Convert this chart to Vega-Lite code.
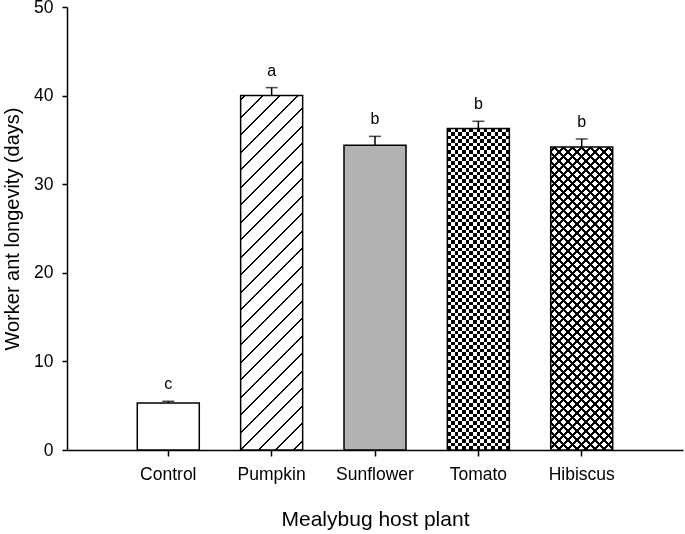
{
"$schema": "https://vega.github.io/schema/vega-lite/v6.json",
"width": 616, "height": 443,
"autosize": {"type": "none"},
"padding": {"left": 67, "top": 7, "right": 2, "bottom": 84},
"background": "white",
"config": {"view": {"stroke": null}, "font": "Liberation Sans",
 "axis": {"grid": false, "domainColor": "#000", "domainWidth": 1.5, "tickColor": "#000", "tickWidth": 1.5, "labelColor": "#000", "titleColor": "#000", "labelFont": "Liberation Sans", "titleFont": "Liberation Sans", "titleFontWeight": "normal"},
 "axisY": {"labelFontSize": 17.5, "titleFontSize": 20, "tickSize": 5, "labelPadding": 9, "titlePadding": 11},
 "axisX": {"labelFontSize": 17.5, "titleFontSize": 21, "tickSize": 6, "labelPadding": 9, "titlePadding": 26, "labelAngle": 0}
},
"data": {"values": [
 {"plant": "Control", "mean": 5.3, "upper": 5.5, "letter": "c"},
 {"plant": "Pumpkin", "mean": 40.0, "upper": 40.9, "letter": "a"},
 {"plant": "Sunflower", "mean": 34.4, "upper": 35.4, "letter": "b"},
 {"plant": "Tomato", "mean": 36.3, "upper": 37.1, "letter": "b"},
 {"plant": "Hibiscus", "mean": 34.2, "upper": 35.1, "letter": "b"}
]},
"encoding": {
 "x": {"field": "plant", "type": "nominal", "sort": ["Control", "Pumpkin", "Sunflower", "Tomato", "Hibiscus"], "scale": {"paddingInner": 0.4, "paddingOuter": 0.68}, "title": "Mealybug host plant"},
 "y": {"field": "mean", "type": "quantitative", "scale": {"domain": [0, 50]}, "axis": {"values": [0, 10, 20, 30, 40, 50]}, "title": "Worker ant longevity (days)"}
},
"layer": [
 {"transform": [{"filter": "datum.plant === 'Control'"}], "mark": {"type": "bar", "fill": "#fff"}},
 {"transform": [{"filter": "datum.plant === 'Sunflower'"}], "mark": {"type": "bar", "fill": "#b2b2b2"}},
 {"transform": [{"filter": "datum.plant === 'Pumpkin'"}], "mark": {"type": "bar", "fill": {"gradient": "linear", "x1": 0, "y1": 0, "x2": 0.19945, "y2": 1.14008, "stops": [
  {"offset": 0, "color": "#fff"},
  {"offset": 0.0079, "color": "#fff"}, {"offset": 0.0079, "color": "#000"}, {"offset": 0.0133, "color": "#000"}, {"offset": 0.0133, "color": "#fff"},
  {"offset": 0.0499, "color": "#fff"}, {"offset": 0.0499, "color": "#000"}, {"offset": 0.0553, "color": "#000"}, {"offset": 0.0553, "color": "#fff"},
  {"offset": 0.0919, "color": "#fff"}, {"offset": 0.0919, "color": "#000"}, {"offset": 0.0973, "color": "#000"}, {"offset": 0.0973, "color": "#fff"},
  {"offset": 0.1340, "color": "#fff"}, {"offset": 0.1340, "color": "#000"}, {"offset": 0.1394, "color": "#000"}, {"offset": 0.1394, "color": "#fff"},
  {"offset": 0.1760, "color": "#fff"}, {"offset": 0.1760, "color": "#000"}, {"offset": 0.1814, "color": "#000"}, {"offset": 0.1814, "color": "#fff"},
  {"offset": 0.2180, "color": "#fff"}, {"offset": 0.2180, "color": "#000"}, {"offset": 0.2234, "color": "#000"}, {"offset": 0.2234, "color": "#fff"},
  {"offset": 0.2600, "color": "#fff"}, {"offset": 0.2600, "color": "#000"}, {"offset": 0.2654, "color": "#000"}, {"offset": 0.2654, "color": "#fff"},
  {"offset": 0.3021, "color": "#fff"}, {"offset": 0.3021, "color": "#000"}, {"offset": 0.3075, "color": "#000"}, {"offset": 0.3075, "color": "#fff"},
  {"offset": 0.3441, "color": "#fff"}, {"offset": 0.3441, "color": "#000"}, {"offset": 0.3495, "color": "#000"}, {"offset": 0.3495, "color": "#fff"},
  {"offset": 0.3861, "color": "#fff"}, {"offset": 0.3861, "color": "#000"}, {"offset": 0.3915, "color": "#000"}, {"offset": 0.3915, "color": "#fff"},
  {"offset": 0.4281, "color": "#fff"}, {"offset": 0.4281, "color": "#000"}, {"offset": 0.4335, "color": "#000"}, {"offset": 0.4335, "color": "#fff"},
  {"offset": 0.4702, "color": "#fff"}, {"offset": 0.4702, "color": "#000"}, {"offset": 0.4756, "color": "#000"}, {"offset": 0.4756, "color": "#fff"},
  {"offset": 0.5122, "color": "#fff"}, {"offset": 0.5122, "color": "#000"}, {"offset": 0.5176, "color": "#000"}, {"offset": 0.5176, "color": "#fff"},
  {"offset": 0.5542, "color": "#fff"}, {"offset": 0.5542, "color": "#000"}, {"offset": 0.5596, "color": "#000"}, {"offset": 0.5596, "color": "#fff"},
  {"offset": 0.5962, "color": "#fff"}, {"offset": 0.5962, "color": "#000"}, {"offset": 0.6016, "color": "#000"}, {"offset": 0.6016, "color": "#fff"},
  {"offset": 0.6383, "color": "#fff"}, {"offset": 0.6383, "color": "#000"}, {"offset": 0.6437, "color": "#000"}, {"offset": 0.6437, "color": "#fff"},
  {"offset": 0.6803, "color": "#fff"}, {"offset": 0.6803, "color": "#000"}, {"offset": 0.6857, "color": "#000"}, {"offset": 0.6857, "color": "#fff"},
  {"offset": 0.7223, "color": "#fff"}, {"offset": 0.7223, "color": "#000"}, {"offset": 0.7277, "color": "#000"}, {"offset": 0.7277, "color": "#fff"},
  {"offset": 0.7643, "color": "#fff"}, {"offset": 0.7643, "color": "#000"}, {"offset": 0.7697, "color": "#000"}, {"offset": 0.7697, "color": "#fff"},
  {"offset": 0.8064, "color": "#fff"}, {"offset": 0.8064, "color": "#000"}, {"offset": 0.8118, "color": "#000"}, {"offset": 0.8118, "color": "#fff"},
  {"offset": 0.8484, "color": "#fff"}, {"offset": 0.8484, "color": "#000"}, {"offset": 0.8538, "color": "#000"}, {"offset": 0.8538, "color": "#fff"},
  {"offset": 0.8904, "color": "#fff"}, {"offset": 0.8904, "color": "#000"}, {"offset": 0.8958, "color": "#000"}, {"offset": 0.8958, "color": "#fff"},
  {"offset": 0.9324, "color": "#fff"}, {"offset": 0.9324, "color": "#000"}, {"offset": 0.9378, "color": "#000"}, {"offset": 0.9378, "color": "#fff"},
  {"offset": 0.9745, "color": "#fff"}, {"offset": 0.9745, "color": "#000"}, {"offset": 0.9799, "color": "#000"}, {"offset": 0.9799, "color": "#fff"},
  {"offset": 1, "color": "#fff"}
 ]}}},
 {"transform": [{"filter": "datum.plant === 'Tomato'"}], "mark": {"type": "bar", "fill": {"gradient": "linear", "x1": 0, "y1": 0, "x2": 0, "y2": 1, "stops": [
  {"offset": 0, "color": "#000"},
  {"offset": 0.0112, "color": "#000"}, {"offset": 0.0112, "color": "#fff"},
  {"offset": 0.0225, "color": "#fff"}, {"offset": 0.0225, "color": "#000"},
  {"offset": 0.0337, "color": "#000"}, {"offset": 0.0337, "color": "#fff"},
  {"offset": 0.0449, "color": "#fff"}, {"offset": 0.0449, "color": "#000"},
  {"offset": 0.0562, "color": "#000"}, {"offset": 0.0562, "color": "#fff"},
  {"offset": 0.0674, "color": "#fff"}, {"offset": 0.0674, "color": "#000"},
  {"offset": 0.0787, "color": "#000"}, {"offset": 0.0787, "color": "#fff"},
  {"offset": 0.0899, "color": "#fff"}, {"offset": 0.0899, "color": "#000"},
  {"offset": 0.1011, "color": "#000"}, {"offset": 0.1011, "color": "#fff"},
  {"offset": 0.1124, "color": "#fff"}, {"offset": 0.1124, "color": "#000"},
  {"offset": 0.1236, "color": "#000"}, {"offset": 0.1236, "color": "#fff"},
  {"offset": 0.1348, "color": "#fff"}, {"offset": 0.1348, "color": "#000"},
  {"offset": 0.1461, "color": "#000"}, {"offset": 0.1461, "color": "#fff"},
  {"offset": 0.1573, "color": "#fff"}, {"offset": 0.1573, "color": "#000"},
  {"offset": 0.1685, "color": "#000"}, {"offset": 0.1685, "color": "#fff"},
  {"offset": 0.1798, "color": "#fff"}, {"offset": 0.1798, "color": "#000"},
  {"offset": 0.1910, "color": "#000"}, {"offset": 0.1910, "color": "#fff"},
  {"offset": 0.2022, "color": "#fff"}, {"offset": 0.2022, "color": "#000"},
  {"offset": 0.2135, "color": "#000"}, {"offset": 0.2135, "color": "#fff"},
  {"offset": 0.2247, "color": "#fff"}, {"offset": 0.2247, "color": "#000"},
  {"offset": 0.2360, "color": "#000"}, {"offset": 0.2360, "color": "#fff"},
  {"offset": 0.2472, "color": "#fff"}, {"offset": 0.2472, "color": "#000"},
  {"offset": 0.2584, "color": "#000"}, {"offset": 0.2584, "color": "#fff"},
  {"offset": 0.2697, "color": "#fff"}, {"offset": 0.2697, "color": "#000"},
  {"offset": 0.2809, "color": "#000"}, {"offset": 0.2809, "color": "#fff"},
  {"offset": 0.2921, "color": "#fff"}, {"offset": 0.2921, "color": "#000"},
  {"offset": 0.3034, "color": "#000"}, {"offset": 0.3034, "color": "#fff"},
  {"offset": 0.3146, "color": "#fff"}, {"offset": 0.3146, "color": "#000"},
  {"offset": 0.3258, "color": "#000"}, {"offset": 0.3258, "color": "#fff"},
  {"offset": 0.3371, "color": "#fff"}, {"offset": 0.3371, "color": "#000"},
  {"offset": 0.3483, "color": "#000"}, {"offset": 0.3483, "color": "#fff"},
  {"offset": 0.3596, "color": "#fff"}, {"offset": 0.3596, "color": "#000"},
  {"offset": 0.3708, "color": "#000"}, {"offset": 0.3708, "color": "#fff"},
  {"offset": 0.3820, "color": "#fff"}, {"offset": 0.3820, "color": "#000"},
  {"offset": 0.3933, "color": "#000"}, {"offset": 0.3933, "color": "#fff"},
  {"offset": 0.4045, "color": "#fff"}, {"offset": 0.4045, "color": "#000"},
  {"offset": 0.4157, "color": "#000"}, {"offset": 0.4157, "color": "#fff"},
  {"offset": 0.4270, "color": "#fff"}, {"offset": 0.4270, "color": "#000"},
  {"offset": 0.4382, "color": "#000"}, {"offset": 0.4382, "color": "#fff"},
  {"offset": 0.4494, "color": "#fff"}, {"offset": 0.4494, "color": "#000"},
  {"offset": 0.4607, "color": "#000"}, {"offset": 0.4607, "color": "#fff"},
  {"offset": 0.4719, "color": "#fff"}, {"offset": 0.4719, "color": "#000"},
  {"offset": 0.4831, "color": "#000"}, {"offset": 0.4831, "color": "#fff"},
  {"offset": 0.4944, "color": "#fff"}, {"offset": 0.4944, "color": "#000"},
  {"offset": 0.5056, "color": "#000"}, {"offset": 0.5056, "color": "#fff"},
  {"offset": 0.5169, "color": "#fff"}, {"offset": 0.5169, "color": "#000"},
  {"offset": 0.5281, "color": "#000"}, {"offset": 0.5281, "color": "#fff"},
  {"offset": 0.5393, "color": "#fff"}, {"offset": 0.5393, "color": "#000"},
  {"offset": 0.5506, "color": "#000"}, {"offset": 0.5506, "color": "#fff"},
  {"offset": 0.5618, "color": "#fff"}, {"offset": 0.5618, "color": "#000"},
  {"offset": 0.5730, "color": "#000"}, {"offset": 0.5730, "color": "#fff"},
  {"offset": 0.5843, "color": "#fff"}, {"offset": 0.5843, "color": "#000"},
  {"offset": 0.5955, "color": "#000"}, {"offset": 0.5955, "color": "#fff"},
  {"offset": 0.6067, "color": "#fff"}, {"offset": 0.6067, "color": "#000"},
  {"offset": 0.6180, "color": "#000"}, {"offset": 0.6180, "color": "#fff"},
  {"offset": 0.6292, "color": "#fff"}, {"offset": 0.6292, "color": "#000"},
  {"offset": 0.6404, "color": "#000"}, {"offset": 0.6404, "color": "#fff"},
  {"offset": 0.6517, "color": "#fff"}, {"offset": 0.6517, "color": "#000"},
  {"offset": 0.6629, "color": "#000"}, {"offset": 0.6629, "color": "#fff"},
  {"offset": 0.6742, "color": "#fff"}, {"offset": 0.6742, "color": "#000"},
  {"offset": 0.6854, "color": "#000"}, {"offset": 0.6854, "color": "#fff"},
  {"offset": 0.6966, "color": "#fff"}, {"offset": 0.6966, "color": "#000"},
  {"offset": 0.7079, "color": "#000"}, {"offset": 0.7079, "color": "#fff"},
  {"offset": 0.7191, "color": "#fff"}, {"offset": 0.7191, "color": "#000"},
  {"offset": 0.7303, "color": "#000"}, {"offset": 0.7303, "color": "#fff"},
  {"offset": 0.7416, "color": "#fff"}, {"offset": 0.7416, "color": "#000"},
  {"offset": 0.7528, "color": "#000"}, {"offset": 0.7528, "color": "#fff"},
  {"offset": 0.7640, "color": "#fff"}, {"offset": 0.7640, "color": "#000"},
  {"offset": 0.7753, "color": "#000"}, {"offset": 0.7753, "color": "#fff"},
  {"offset": 0.7865, "color": "#fff"}, {"offset": 0.7865, "color": "#000"},
  {"offset": 0.7978, "color": "#000"}, {"offset": 0.7978, "color": "#fff"},
  {"offset": 0.8090, "color": "#fff"}, {"offset": 0.8090, "color": "#000"},
  {"offset": 0.8202, "color": "#000"}, {"offset": 0.8202, "color": "#fff"},
  {"offset": 0.8315, "color": "#fff"}, {"offset": 0.8315, "color": "#000"},
  {"offset": 0.8427, "color": "#000"}, {"offset": 0.8427, "color": "#fff"},
  {"offset": 0.8539, "color": "#fff"}, {"offset": 0.8539, "color": "#000"},
  {"offset": 0.8652, "color": "#000"}, {"offset": 0.8652, "color": "#fff"},
  {"offset": 0.8764, "color": "#fff"}, {"offset": 0.8764, "color": "#000"},
  {"offset": 0.8876, "color": "#000"}, {"offset": 0.8876, "color": "#fff"},
  {"offset": 0.8989, "color": "#fff"}, {"offset": 0.8989, "color": "#000"},
  {"offset": 0.9101, "color": "#000"}, {"offset": 0.9101, "color": "#fff"},
  {"offset": 0.9213, "color": "#fff"}, {"offset": 0.9213, "color": "#000"},
  {"offset": 0.9326, "color": "#000"}, {"offset": 0.9326, "color": "#fff"},
  {"offset": 0.9438, "color": "#fff"}, {"offset": 0.9438, "color": "#000"},
  {"offset": 0.9551, "color": "#000"}, {"offset": 0.9551, "color": "#fff"},
  {"offset": 0.9663, "color": "#fff"}, {"offset": 0.9663, "color": "#000"},
  {"offset": 0.9775, "color": "#000"}, {"offset": 0.9775, "color": "#fff"},
  {"offset": 0.9888, "color": "#fff"}, {"offset": 0.9888, "color": "#000"},
  {"offset": 1, "color": "#000"}
 ]}}},
 {"transform": [{"filter": "datum.plant === 'Tomato'"}], "mark": {"type": "bar", "blend": "difference", "fill": {"gradient": "linear", "x1": 0, "y1": 0, "x2": 1, "y2": 0, "stops": [
  {"offset": 0, "color": "rgba(255,255,255,0)"},
  {"offset": 0.0588, "color": "rgba(255,255,255,0)"}, {"offset": 0.0588, "color": "#fff"},
  {"offset": 0.1176, "color": "#fff"}, {"offset": 0.1176, "color": "rgba(255,255,255,0)"},
  {"offset": 0.1765, "color": "rgba(255,255,255,0)"}, {"offset": 0.1765, "color": "#fff"},
  {"offset": 0.2353, "color": "#fff"}, {"offset": 0.2353, "color": "rgba(255,255,255,0)"},
  {"offset": 0.2941, "color": "rgba(255,255,255,0)"}, {"offset": 0.2941, "color": "#fff"},
  {"offset": 0.3529, "color": "#fff"}, {"offset": 0.3529, "color": "rgba(255,255,255,0)"},
  {"offset": 0.4118, "color": "rgba(255,255,255,0)"}, {"offset": 0.4118, "color": "#fff"},
  {"offset": 0.4706, "color": "#fff"}, {"offset": 0.4706, "color": "rgba(255,255,255,0)"},
  {"offset": 0.5294, "color": "rgba(255,255,255,0)"}, {"offset": 0.5294, "color": "#fff"},
  {"offset": 0.5882, "color": "#fff"}, {"offset": 0.5882, "color": "rgba(255,255,255,0)"},
  {"offset": 0.6471, "color": "rgba(255,255,255,0)"}, {"offset": 0.6471, "color": "#fff"},
  {"offset": 0.7059, "color": "#fff"}, {"offset": 0.7059, "color": "rgba(255,255,255,0)"},
  {"offset": 0.7647, "color": "rgba(255,255,255,0)"}, {"offset": 0.7647, "color": "#fff"},
  {"offset": 0.8235, "color": "#fff"}, {"offset": 0.8235, "color": "rgba(255,255,255,0)"},
  {"offset": 0.8824, "color": "rgba(255,255,255,0)"}, {"offset": 0.8824, "color": "#fff"},
  {"offset": 0.9412, "color": "#fff"}, {"offset": 0.9412, "color": "rgba(255,255,255,0)"},
  {"offset": 1, "color": "rgba(255,255,255,0)"}
 ]}}},
 {"transform": [{"filter": "datum.plant === 'Hibiscus'"}], "mark": {"type": "bar", "fill": {"gradient": "linear", "x1": 0, "y1": 0, "x2": 0.23658, "y2": 1.15623, "stops": [
  {"offset": 0, "color": "#fff"},
  {"offset": 0.0082, "color": "#fff"}, {"offset": 0.0082, "color": "#000"}, {"offset": 0.0158, "color": "#000"}, {"offset": 0.0158, "color": "#fff"},
  {"offset": 0.0329, "color": "#fff"}, {"offset": 0.0329, "color": "#000"}, {"offset": 0.0405, "color": "#000"}, {"offset": 0.0405, "color": "#fff"},
  {"offset": 0.0575, "color": "#fff"}, {"offset": 0.0575, "color": "#000"}, {"offset": 0.0651, "color": "#000"}, {"offset": 0.0651, "color": "#fff"},
  {"offset": 0.0822, "color": "#fff"}, {"offset": 0.0822, "color": "#000"}, {"offset": 0.0898, "color": "#000"}, {"offset": 0.0898, "color": "#fff"},
  {"offset": 0.1068, "color": "#fff"}, {"offset": 0.1068, "color": "#000"}, {"offset": 0.1144, "color": "#000"}, {"offset": 0.1144, "color": "#fff"},
  {"offset": 0.1315, "color": "#fff"}, {"offset": 0.1315, "color": "#000"}, {"offset": 0.1391, "color": "#000"}, {"offset": 0.1391, "color": "#fff"},
  {"offset": 0.1561, "color": "#fff"}, {"offset": 0.1561, "color": "#000"}, {"offset": 0.1637, "color": "#000"}, {"offset": 0.1637, "color": "#fff"},
  {"offset": 0.1808, "color": "#fff"}, {"offset": 0.1808, "color": "#000"}, {"offset": 0.1884, "color": "#000"}, {"offset": 0.1884, "color": "#fff"},
  {"offset": 0.2055, "color": "#fff"}, {"offset": 0.2055, "color": "#000"}, {"offset": 0.2131, "color": "#000"}, {"offset": 0.2131, "color": "#fff"},
  {"offset": 0.2301, "color": "#fff"}, {"offset": 0.2301, "color": "#000"}, {"offset": 0.2377, "color": "#000"}, {"offset": 0.2377, "color": "#fff"},
  {"offset": 0.2548, "color": "#fff"}, {"offset": 0.2548, "color": "#000"}, {"offset": 0.2624, "color": "#000"}, {"offset": 0.2624, "color": "#fff"},
  {"offset": 0.2794, "color": "#fff"}, {"offset": 0.2794, "color": "#000"}, {"offset": 0.2870, "color": "#000"}, {"offset": 0.2870, "color": "#fff"},
  {"offset": 0.3041, "color": "#fff"}, {"offset": 0.3041, "color": "#000"}, {"offset": 0.3117, "color": "#000"}, {"offset": 0.3117, "color": "#fff"},
  {"offset": 0.3287, "color": "#fff"}, {"offset": 0.3287, "color": "#000"}, {"offset": 0.3363, "color": "#000"}, {"offset": 0.3363, "color": "#fff"},
  {"offset": 0.3534, "color": "#fff"}, {"offset": 0.3534, "color": "#000"}, {"offset": 0.3610, "color": "#000"}, {"offset": 0.3610, "color": "#fff"},
  {"offset": 0.3781, "color": "#fff"}, {"offset": 0.3781, "color": "#000"}, {"offset": 0.3857, "color": "#000"}, {"offset": 0.3857, "color": "#fff"},
  {"offset": 0.4027, "color": "#fff"}, {"offset": 0.4027, "color": "#000"}, {"offset": 0.4103, "color": "#000"}, {"offset": 0.4103, "color": "#fff"},
  {"offset": 0.4274, "color": "#fff"}, {"offset": 0.4274, "color": "#000"}, {"offset": 0.4350, "color": "#000"}, {"offset": 0.4350, "color": "#fff"},
  {"offset": 0.4520, "color": "#fff"}, {"offset": 0.4520, "color": "#000"}, {"offset": 0.4596, "color": "#000"}, {"offset": 0.4596, "color": "#fff"},
  {"offset": 0.4767, "color": "#fff"}, {"offset": 0.4767, "color": "#000"}, {"offset": 0.4843, "color": "#000"}, {"offset": 0.4843, "color": "#fff"},
  {"offset": 0.5013, "color": "#fff"}, {"offset": 0.5013, "color": "#000"}, {"offset": 0.5089, "color": "#000"}, {"offset": 0.5089, "color": "#fff"},
  {"offset": 0.5260, "color": "#fff"}, {"offset": 0.5260, "color": "#000"}, {"offset": 0.5336, "color": "#000"}, {"offset": 0.5336, "color": "#fff"},
  {"offset": 0.5507, "color": "#fff"}, {"offset": 0.5507, "color": "#000"}, {"offset": 0.5583, "color": "#000"}, {"offset": 0.5583, "color": "#fff"},
  {"offset": 0.5753, "color": "#fff"}, {"offset": 0.5753, "color": "#000"}, {"offset": 0.5829, "color": "#000"}, {"offset": 0.5829, "color": "#fff"},
  {"offset": 0.6000, "color": "#fff"}, {"offset": 0.6000, "color": "#000"}, {"offset": 0.6076, "color": "#000"}, {"offset": 0.6076, "color": "#fff"},
  {"offset": 0.6246, "color": "#fff"}, {"offset": 0.6246, "color": "#000"}, {"offset": 0.6322, "color": "#000"}, {"offset": 0.6322, "color": "#fff"},
  {"offset": 0.6493, "color": "#fff"}, {"offset": 0.6493, "color": "#000"}, {"offset": 0.6569, "color": "#000"}, {"offset": 0.6569, "color": "#fff"},
  {"offset": 0.6739, "color": "#fff"}, {"offset": 0.6739, "color": "#000"}, {"offset": 0.6815, "color": "#000"}, {"offset": 0.6815, "color": "#fff"},
  {"offset": 0.6986, "color": "#fff"}, {"offset": 0.6986, "color": "#000"}, {"offset": 0.7062, "color": "#000"}, {"offset": 0.7062, "color": "#fff"},
  {"offset": 0.7233, "color": "#fff"}, {"offset": 0.7233, "color": "#000"}, {"offset": 0.7309, "color": "#000"}, {"offset": 0.7309, "color": "#fff"},
  {"offset": 0.7479, "color": "#fff"}, {"offset": 0.7479, "color": "#000"}, {"offset": 0.7555, "color": "#000"}, {"offset": 0.7555, "color": "#fff"},
  {"offset": 0.7726, "color": "#fff"}, {"offset": 0.7726, "color": "#000"}, {"offset": 0.7802, "color": "#000"}, {"offset": 0.7802, "color": "#fff"},
  {"offset": 0.7972, "color": "#fff"}, {"offset": 0.7972, "color": "#000"}, {"offset": 0.8048, "color": "#000"}, {"offset": 0.8048, "color": "#fff"},
  {"offset": 0.8219, "color": "#fff"}, {"offset": 0.8219, "color": "#000"}, {"offset": 0.8295, "color": "#000"}, {"offset": 0.8295, "color": "#fff"},
  {"offset": 0.8465, "color": "#fff"}, {"offset": 0.8465, "color": "#000"}, {"offset": 0.8541, "color": "#000"}, {"offset": 0.8541, "color": "#fff"},
  {"offset": 0.8712, "color": "#fff"}, {"offset": 0.8712, "color": "#000"}, {"offset": 0.8788, "color": "#000"}, {"offset": 0.8788, "color": "#fff"},
  {"offset": 0.8959, "color": "#fff"}, {"offset": 0.8959, "color": "#000"}, {"offset": 0.9035, "color": "#000"}, {"offset": 0.9035, "color": "#fff"},
  {"offset": 0.9205, "color": "#fff"}, {"offset": 0.9205, "color": "#000"}, {"offset": 0.9281, "color": "#000"}, {"offset": 0.9281, "color": "#fff"},
  {"offset": 0.9452, "color": "#fff"}, {"offset": 0.9452, "color": "#000"}, {"offset": 0.9528, "color": "#000"}, {"offset": 0.9528, "color": "#fff"},
  {"offset": 0.9698, "color": "#fff"}, {"offset": 0.9698, "color": "#000"}, {"offset": 0.9774, "color": "#000"}, {"offset": 0.9774, "color": "#fff"},
  {"offset": 1, "color": "#fff"}
 ]}}},
 {"transform": [{"filter": "datum.plant === 'Hibiscus'"}], "mark": {"type": "bar", "fill": {"gradient": "linear", "x1": 1, "y1": 0, "x2": 0.76342, "y2": 1.15623, "stops": [
  {"offset": 0, "color": "rgba(0,0,0,0)"},
  {"offset": 0.0082, "color": "rgba(0,0,0,0)"}, {"offset": 0.0082, "color": "#000"}, {"offset": 0.0158, "color": "#000"}, {"offset": 0.0158, "color": "rgba(0,0,0,0)"},
  {"offset": 0.0329, "color": "rgba(0,0,0,0)"}, {"offset": 0.0329, "color": "#000"}, {"offset": 0.0405, "color": "#000"}, {"offset": 0.0405, "color": "rgba(0,0,0,0)"},
  {"offset": 0.0575, "color": "rgba(0,0,0,0)"}, {"offset": 0.0575, "color": "#000"}, {"offset": 0.0651, "color": "#000"}, {"offset": 0.0651, "color": "rgba(0,0,0,0)"},
  {"offset": 0.0822, "color": "rgba(0,0,0,0)"}, {"offset": 0.0822, "color": "#000"}, {"offset": 0.0898, "color": "#000"}, {"offset": 0.0898, "color": "rgba(0,0,0,0)"},
  {"offset": 0.1068, "color": "rgba(0,0,0,0)"}, {"offset": 0.1068, "color": "#000"}, {"offset": 0.1144, "color": "#000"}, {"offset": 0.1144, "color": "rgba(0,0,0,0)"},
  {"offset": 0.1315, "color": "rgba(0,0,0,0)"}, {"offset": 0.1315, "color": "#000"}, {"offset": 0.1391, "color": "#000"}, {"offset": 0.1391, "color": "rgba(0,0,0,0)"},
  {"offset": 0.1561, "color": "rgba(0,0,0,0)"}, {"offset": 0.1561, "color": "#000"}, {"offset": 0.1637, "color": "#000"}, {"offset": 0.1637, "color": "rgba(0,0,0,0)"},
  {"offset": 0.1808, "color": "rgba(0,0,0,0)"}, {"offset": 0.1808, "color": "#000"}, {"offset": 0.1884, "color": "#000"}, {"offset": 0.1884, "color": "rgba(0,0,0,0)"},
  {"offset": 0.2055, "color": "rgba(0,0,0,0)"}, {"offset": 0.2055, "color": "#000"}, {"offset": 0.2131, "color": "#000"}, {"offset": 0.2131, "color": "rgba(0,0,0,0)"},
  {"offset": 0.2301, "color": "rgba(0,0,0,0)"}, {"offset": 0.2301, "color": "#000"}, {"offset": 0.2377, "color": "#000"}, {"offset": 0.2377, "color": "rgba(0,0,0,0)"},
  {"offset": 0.2548, "color": "rgba(0,0,0,0)"}, {"offset": 0.2548, "color": "#000"}, {"offset": 0.2624, "color": "#000"}, {"offset": 0.2624, "color": "rgba(0,0,0,0)"},
  {"offset": 0.2794, "color": "rgba(0,0,0,0)"}, {"offset": 0.2794, "color": "#000"}, {"offset": 0.2870, "color": "#000"}, {"offset": 0.2870, "color": "rgba(0,0,0,0)"},
  {"offset": 0.3041, "color": "rgba(0,0,0,0)"}, {"offset": 0.3041, "color": "#000"}, {"offset": 0.3117, "color": "#000"}, {"offset": 0.3117, "color": "rgba(0,0,0,0)"},
  {"offset": 0.3287, "color": "rgba(0,0,0,0)"}, {"offset": 0.3287, "color": "#000"}, {"offset": 0.3363, "color": "#000"}, {"offset": 0.3363, "color": "rgba(0,0,0,0)"},
  {"offset": 0.3534, "color": "rgba(0,0,0,0)"}, {"offset": 0.3534, "color": "#000"}, {"offset": 0.3610, "color": "#000"}, {"offset": 0.3610, "color": "rgba(0,0,0,0)"},
  {"offset": 0.3781, "color": "rgba(0,0,0,0)"}, {"offset": 0.3781, "color": "#000"}, {"offset": 0.3857, "color": "#000"}, {"offset": 0.3857, "color": "rgba(0,0,0,0)"},
  {"offset": 0.4027, "color": "rgba(0,0,0,0)"}, {"offset": 0.4027, "color": "#000"}, {"offset": 0.4103, "color": "#000"}, {"offset": 0.4103, "color": "rgba(0,0,0,0)"},
  {"offset": 0.4274, "color": "rgba(0,0,0,0)"}, {"offset": 0.4274, "color": "#000"}, {"offset": 0.4350, "color": "#000"}, {"offset": 0.4350, "color": "rgba(0,0,0,0)"},
  {"offset": 0.4520, "color": "rgba(0,0,0,0)"}, {"offset": 0.4520, "color": "#000"}, {"offset": 0.4596, "color": "#000"}, {"offset": 0.4596, "color": "rgba(0,0,0,0)"},
  {"offset": 0.4767, "color": "rgba(0,0,0,0)"}, {"offset": 0.4767, "color": "#000"}, {"offset": 0.4843, "color": "#000"}, {"offset": 0.4843, "color": "rgba(0,0,0,0)"},
  {"offset": 0.5013, "color": "rgba(0,0,0,0)"}, {"offset": 0.5013, "color": "#000"}, {"offset": 0.5089, "color": "#000"}, {"offset": 0.5089, "color": "rgba(0,0,0,0)"},
  {"offset": 0.5260, "color": "rgba(0,0,0,0)"}, {"offset": 0.5260, "color": "#000"}, {"offset": 0.5336, "color": "#000"}, {"offset": 0.5336, "color": "rgba(0,0,0,0)"},
  {"offset": 0.5507, "color": "rgba(0,0,0,0)"}, {"offset": 0.5507, "color": "#000"}, {"offset": 0.5583, "color": "#000"}, {"offset": 0.5583, "color": "rgba(0,0,0,0)"},
  {"offset": 0.5753, "color": "rgba(0,0,0,0)"}, {"offset": 0.5753, "color": "#000"}, {"offset": 0.5829, "color": "#000"}, {"offset": 0.5829, "color": "rgba(0,0,0,0)"},
  {"offset": 0.6000, "color": "rgba(0,0,0,0)"}, {"offset": 0.6000, "color": "#000"}, {"offset": 0.6076, "color": "#000"}, {"offset": 0.6076, "color": "rgba(0,0,0,0)"},
  {"offset": 0.6246, "color": "rgba(0,0,0,0)"}, {"offset": 0.6246, "color": "#000"}, {"offset": 0.6322, "color": "#000"}, {"offset": 0.6322, "color": "rgba(0,0,0,0)"},
  {"offset": 0.6493, "color": "rgba(0,0,0,0)"}, {"offset": 0.6493, "color": "#000"}, {"offset": 0.6569, "color": "#000"}, {"offset": 0.6569, "color": "rgba(0,0,0,0)"},
  {"offset": 0.6739, "color": "rgba(0,0,0,0)"}, {"offset": 0.6739, "color": "#000"}, {"offset": 0.6815, "color": "#000"}, {"offset": 0.6815, "color": "rgba(0,0,0,0)"},
  {"offset": 0.6986, "color": "rgba(0,0,0,0)"}, {"offset": 0.6986, "color": "#000"}, {"offset": 0.7062, "color": "#000"}, {"offset": 0.7062, "color": "rgba(0,0,0,0)"},
  {"offset": 0.7233, "color": "rgba(0,0,0,0)"}, {"offset": 0.7233, "color": "#000"}, {"offset": 0.7309, "color": "#000"}, {"offset": 0.7309, "color": "rgba(0,0,0,0)"},
  {"offset": 0.7479, "color": "rgba(0,0,0,0)"}, {"offset": 0.7479, "color": "#000"}, {"offset": 0.7555, "color": "#000"}, {"offset": 0.7555, "color": "rgba(0,0,0,0)"},
  {"offset": 0.7726, "color": "rgba(0,0,0,0)"}, {"offset": 0.7726, "color": "#000"}, {"offset": 0.7802, "color": "#000"}, {"offset": 0.7802, "color": "rgba(0,0,0,0)"},
  {"offset": 0.7972, "color": "rgba(0,0,0,0)"}, {"offset": 0.7972, "color": "#000"}, {"offset": 0.8048, "color": "#000"}, {"offset": 0.8048, "color": "rgba(0,0,0,0)"},
  {"offset": 0.8219, "color": "rgba(0,0,0,0)"}, {"offset": 0.8219, "color": "#000"}, {"offset": 0.8295, "color": "#000"}, {"offset": 0.8295, "color": "rgba(0,0,0,0)"},
  {"offset": 0.8465, "color": "rgba(0,0,0,0)"}, {"offset": 0.8465, "color": "#000"}, {"offset": 0.8541, "color": "#000"}, {"offset": 0.8541, "color": "rgba(0,0,0,0)"},
  {"offset": 0.8712, "color": "rgba(0,0,0,0)"}, {"offset": 0.8712, "color": "#000"}, {"offset": 0.8788, "color": "#000"}, {"offset": 0.8788, "color": "rgba(0,0,0,0)"},
  {"offset": 0.8959, "color": "rgba(0,0,0,0)"}, {"offset": 0.8959, "color": "#000"}, {"offset": 0.9035, "color": "#000"}, {"offset": 0.9035, "color": "rgba(0,0,0,0)"},
  {"offset": 0.9205, "color": "rgba(0,0,0,0)"}, {"offset": 0.9205, "color": "#000"}, {"offset": 0.9281, "color": "#000"}, {"offset": 0.9281, "color": "rgba(0,0,0,0)"},
  {"offset": 0.9452, "color": "rgba(0,0,0,0)"}, {"offset": 0.9452, "color": "#000"}, {"offset": 0.9528, "color": "#000"}, {"offset": 0.9528, "color": "rgba(0,0,0,0)"},
  {"offset": 0.9698, "color": "rgba(0,0,0,0)"}, {"offset": 0.9698, "color": "#000"}, {"offset": 0.9774, "color": "#000"}, {"offset": 0.9774, "color": "rgba(0,0,0,0)"},
  {"offset": 1, "color": "rgba(0,0,0,0)"}
 ]}}},
 {"mark": {"type": "bar", "fill": "transparent", "stroke": "#000", "strokeWidth": 1.5}},
 {"mark": {"type": "rule", "color": "#000", "strokeWidth": 1.5}, "encoding": {"y2": {"field": "upper"}}},
 {"mark": {"type": "tick", "color": "#000", "size": 12, "thickness": 1.5}, "encoding": {"y": {"field": "upper", "type": "quantitative", "scale": {"domain": [0, 50]}, "axis": {"values": [0, 10, 20, 30, 40, 50]}, "title": "Worker ant longevity (days)"}}},
 {"mark": {"type": "text", "dy": -12, "baseline": "alphabetic", "fontSize": 16, "font": "Liberation Sans", "color": "#000"}, "encoding": {"y": {"field": "upper", "type": "quantitative", "scale": {"domain": [0, 50]}, "axis": {"values": [0, 10, 20, 30, 40, 50]}, "title": "Worker ant longevity (days)"}, "text": {"field": "letter"}}}
]
}
